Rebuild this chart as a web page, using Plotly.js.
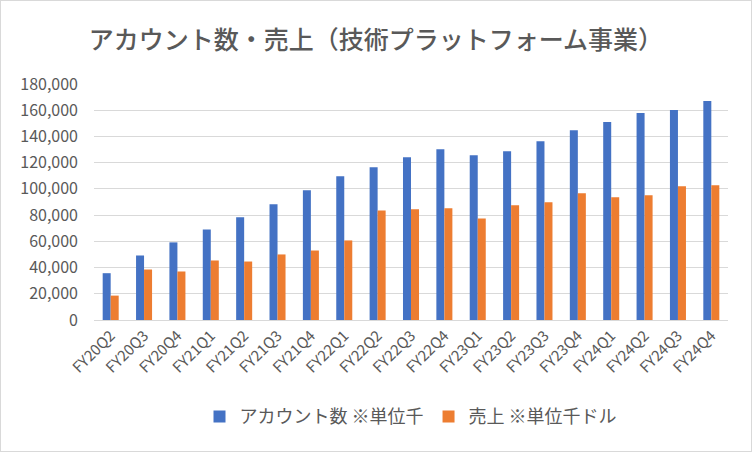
<!DOCTYPE html>
<html>
<head>
<meta charset="utf-8">
<script src="https://cdn.plot.ly/plotly-3.0.1.min.js"></script>
<style>
  html, body { margin: 0; padding: 0; background: #fff; }
  #chart { width: 750px; height: 450px; border: 1px solid #d9d9d9; }
</style>
</head>
<body>
<div id="chart"></div>
<script>
// Quarterly accounts and revenue (technology platform business)
const quarters = ['FY20Q2', 'FY20Q3', 'FY20Q4', 'FY21Q1', 'FY21Q2', 'FY21Q3', 'FY21Q4',
    'FY22Q1', 'FY22Q2', 'FY22Q3', 'FY22Q4', 'FY23Q1', 'FY23Q2', 'FY23Q3', 'FY23Q4',
    'FY24Q1', 'FY24Q2', 'FY24Q3', 'FY24Q4'];
const accounts = [35700, 49200, 59200, 69100, 78300, 88200, 98900, 109700, 116500,
    124200, 130300, 125700, 128800, 136400, 144800, 151000, 157800, 160100, 167000];
const revenue = [18600, 38500, 37000, 45400, 44600, 50000, 53000, 60700, 83600,
    84400, 85200, 77500, 87500, 89800, 96600, 93600, 95100, 102000, 102800];
const yTicks = [0, 20000, 40000, 60000, 80000, 100000, 120000, 140000, 160000, 180000];

const FONT = '"Noto Sans CJK JP", "Noto Sans", sans-serif';
const TEXT_COLOR = '#595959';

const traces = [
    {
        x: quarters,
        y: accounts,
        name: 'アカウント数 ※単位千',
        type: 'bar',
        marker: { color: '#4472c4' },
        hoverinfo: 'x+y',
    },
    {
        x: quarters,
        y: revenue,
        name: '売上 ※単位千ドル',
        type: 'bar',
        marker: { color: '#ed7d31' },
        hoverinfo: 'x+y',
    },
];

const layout = {
    width: 750,
    height: 450,
    paper_bgcolor: '#fff',
    plot_bgcolor: '#fff',
    font: { family: FONT, color: TEXT_COLOR, size: 14 },
    margin: { l: 93, r: 23, t: 83, b: 131 },
    title: {
        text: 'アカウント数・売上（技術プラットフォーム事業）',
        font: { family: FONT, size: 25, color: TEXT_COLOR, weight: 500 },
        x: 0.5,
        xanchor: 'center',
        y: 0.913,
        yanchor: 'middle',
    },
    barmode: 'group',
    bargap: 0.52,
    bargroupgap: 0,
    xaxis: {
        type: 'category',
        tickangle: -45,
        tickfont: { family: FONT, size: 15, color: TEXT_COLOR },
        showline: false,
        ticks: '',
        showgrid: false,
        ticklabelstandoff: 3,
    },
    yaxis: {
        range: [0, 180000],
        tickvals: yTicks,
        tickformat: ',d',
        tickfont: { family: FONT, size: 16, color: TEXT_COLOR },
        gridcolor: '#d9d9d9',
        gridwidth: 1,
        zeroline: true,
        zerolinecolor: '#d9d9d9',
        zerolinewidth: 1,
        ticks: '',
        ticklabelstandoff: 15,
    },
    showlegend: true,
    legend: {
        orientation: 'h',
        x: 0.5,
        xanchor: 'center',
        y: -0.41,
        yanchor: 'middle',
        font: { family: FONT, size: 18, color: TEXT_COLOR },
        itemwidth: 30,
        traceorder: 'normal',
    },
};

Plotly.newPlot('chart', traces, layout, { displayModeBar: false, staticPlot: true });
</script>
</body>
</html>
